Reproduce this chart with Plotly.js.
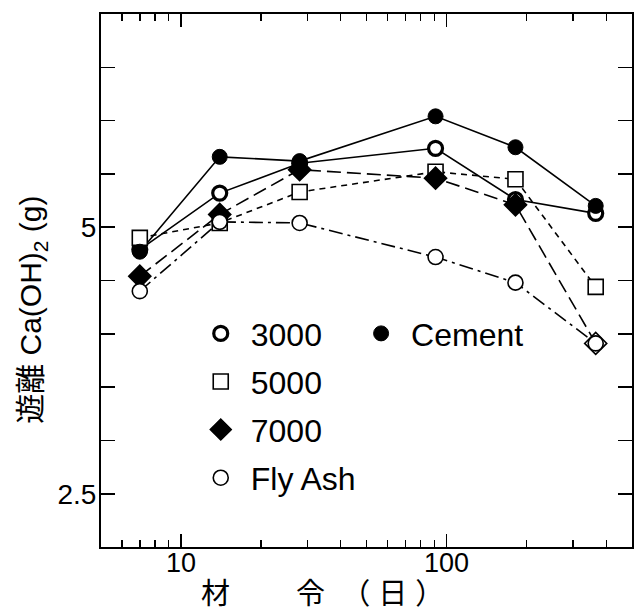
<!DOCTYPE html>
<html>
<head>
<meta charset="utf-8">
<script src="https://cdn.plot.ly/plotly-3.0.1.min.js"></script>
<style>
  html, body { margin: 0; padding: 0; background: #fff; }
  #chart { width: 639px; height: 613px; }
</style>
</head>
<body>
<div id="chart"></div>
<script>
// ---- data ----
const days    = [7, 14, 28, 91, 182, 365];
const cement  = [4.77, 5.66, 5.62, 6.04, 5.75, 5.20];
const s3000   = [4.79, 5.32, 5.60, 5.74, 5.26, 5.13];
const s5000   = [4.90, 5.04, 5.33, 5.52, 5.45, 4.44];
const s7000   = [4.54, 5.12, 5.54, 5.46, 5.21, 3.91];
const flyAsh  = [4.40, 5.05, 5.04, 4.72, 4.48, 3.91];

const seriesNames = ['3000', '5000', '7000', 'Fly Ash', 'Cement'];
const yTickVals = [2.5, 3.0, 3.5, 4.0, 4.5, 5.0, 5.5, 6.0, 6.5];
const yTickText = ['2.5', '', '', '', '', '5', '', '', ''];
const xTickVals = [10, 100];
const xTickText = ['10', '100'];

const FONT = 'Liberation Sans, Arial, Noto Sans CJK JP, sans-serif';
const K = '#000';

function lineTrace(y, dash, w) {
  return { x: days, y: y, mode: 'lines', type: 'scatter', showlegend: false,
           hoverinfo: 'skip', line: { color: K, width: w, dash: dash } };
}

const traces = [
  lineTrace(cement, 'solid', 1.6),
  lineTrace(s3000, 'solid', 1.6),
  lineTrace(s5000, '6px,5px', 1.6),
  lineTrace(s7000, '14px,6px', 1.6),
  lineTrace(flyAsh, '14px,5px,3px,5px', 1.6),
  { x: days, y: s3000, mode: 'markers', type: 'scatter', name: seriesNames[0], legendgroup: 'a',
    marker: { symbol: 'circle', size: 14, color: '#fff', line: { color: K, width: 3.2 } } },
  { x: days, y: s5000, mode: 'markers', type: 'scatter', name: seriesNames[1], legendgroup: 'b',
    marker: { symbol: 'square', size: 15, color: '#fff', line: { color: K, width: 1.6 } } },
  { x: days, y: s7000, mode: 'markers', type: 'scatter', name: seriesNames[2], legendgroup: 'c',
    marker: { symbol: 'diamond', size: 17, color: [K, K, K, K, K, '#fff'], line: { color: K, width: 1.6 } } },
  { x: days, y: flyAsh, mode: 'markers', type: 'scatter', name: seriesNames[3], legendgroup: 'd',
    marker: { symbol: 'circle', size: 15, color: '#fff', line: { color: K, width: 1.6 } } },
  { x: days, y: cement, mode: 'markers', type: 'scatter', name: seriesNames[4], legend: 'legend2',
    marker: { symbol: 'circle', size: 15, color: K, line: { color: K, width: 1 } } }
];

const legendBase = {
  font: { family: FONT, size: 32, color: K },
  bgcolor: 'rgba(0,0,0,0)', borderwidth: 0,
  xanchor: 'left', yanchor: 'top', itemwidth: 50,
  traceorder: 'grouped', tracegroupgap: 3.5, itemclick: false
};

const layout = {
  width: 639, height: 613,
  margin: { l: 101, r: 7, t: 14, b: 66, pad: 0 },
  paper_bgcolor: '#fff', plot_bgcolor: '#fff',
  font: { family: FONT, color: K },
  showlegend: true,
  legend: Object.assign({}, legendBase, { x: 0.169, y: 0.452 }),
  legend2: Object.assign({}, legendBase, { x: 0.471, y: 0.452 }),
  xaxis: {
    type: 'log', range: [Math.log10(5), Math.log10(500)],
    showline: true, linecolor: K, linewidth: 2, mirror: 'ticks',
    ticks: 'inside', ticklen: 13, tickwidth: 1.6, tickcolor: K,
    tickmode: 'array', tickvals: xTickVals, ticktext: xTickText,
    tickfont: { family: FONT, size: 27, color: K }, ticklabelstandoff: -9,
    showgrid: false, zeroline: false,
    minor: { ticks: 'inside', ticklen: 7, tickwidth: 1.4, tickcolor: K, dtick: 'D1', showgrid: false }
  },
  yaxis: {
    range: [2, 7],
    showline: true, linecolor: K, linewidth: 2, mirror: 'ticks',
    ticks: 'inside', ticklen: 14, tickwidth: 1.6, tickcolor: K,
    tickmode: 'array', tickvals: yTickVals, ticktext: yTickText,
    tickfont: { family: FONT, size: 28, color: K }, ticklabelstandoff: -3,
    showgrid: false, zeroline: false
  },
  annotations: [
    { text: '遊離 Ca(OH)<sub>2</sub> (g)', textangle: -90,
      xref: 'paper', yref: 'paper', x: -0.128, y: 0.445,
      xanchor: 'center', yanchor: 'middle', showarrow: false,
      font: { family: FONT, size: 30, color: K } },
    { text: '材　　 令  （ 日 ）',
      xref: 'paper', yref: 'paper', x: 0.184, y: 0, yshift: -47,
      xanchor: 'left', yanchor: 'middle', showarrow: false,
      font: { family: FONT, size: 29, color: K } }
  ]
};

Plotly.newPlot('chart', traces, layout, { staticPlot: true, displayModeBar: false });
</script>
</body>
</html>
